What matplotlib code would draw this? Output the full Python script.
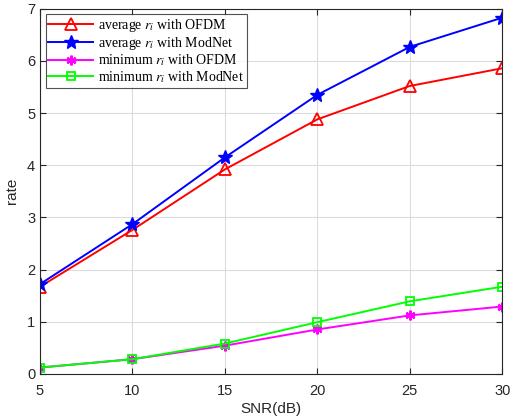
import matplotlib
matplotlib.use("Agg")
import matplotlib.pyplot as plt

snr = [5, 10, 15, 20, 25, 30]
avg_ofdm = [1.67, 2.76, 3.92, 4.88, 5.52, 5.86]
avg_modnet = [1.72, 2.87, 4.15, 5.35, 6.27, 6.83]
min_ofdm = [0.12, 0.28, 0.54, 0.85, 1.12, 1.29]
min_modnet = [0.12, 0.28, 0.58, 0.99, 1.39, 1.67]

labels = [
    r"average $r_i$ with OFDM",
    r"average $r_i$ with ModNet",
    r"minimum $r_i$ with OFDM",
    r"minimum $r_i$ with ModNet",
]

plt.rcParams["font.family"] = ["Liberation Sans", "DejaVu Sans"]
plt.rcParams["mathtext.fontset"] = "stix"

fig = plt.figure(figsize=(5.13, 4.2), dpi=100)
ax = fig.add_axes([0.078, 0.110, 0.901, 0.869])

ax.plot(snr, avg_ofdm, color="#ff0000", marker="^", ms=8, mfc="none", mew=1.3, lw=1.4, label=labels[0])
ax.plot(snr, avg_modnet, color="#0000ff", marker="*", ms=10, lw=1.4, label=labels[1])
ax.plot(snr, min_ofdm, color="#ff00ff", marker=(6, 2, 0), ms=7, mew=1.6, lw=1.4, label=labels[2])
ax.plot(snr, min_modnet, color="#00ff00", marker="s", ms=6, mfc="none", mew=1.3, lw=1.4, label=labels[3])

ax.set_xlim(5, 30)
ax.set_ylim(0, 7)
ax.set_xticks(snr)
ax.set_yticks(range(0, 8))
ax.grid(True, color="#dcdcdc", lw=0.8)
ax.set_axisbelow(True)
ax.tick_params(direction="in", top=True, right=True, labelsize=10.5, colors="#262626", length=4)
ax.tick_params(axis="x", pad=7)
for s in ax.spines.values():
    s.set_color("#262626")
    s.set_linewidth(0.8)

ax.set_xlabel("SNR(dB)", fontsize=11, color="#262626", labelpad=3)
ax.set_ylabel("rate", fontsize=11, color="#262626", labelpad=6)

leg = ax.legend(loc="upper left", prop={"family": "Liberation Serif", "size": 10},
                frameon=True, fancybox=False, edgecolor="#262626", borderpad=0.2,
                handlelength=3.2, labelspacing=0.05, handletextpad=0.4, borderaxespad=0.4)
leg.get_frame().set_linewidth(0.8)

fig.savefig("out.png", dpi=100)
